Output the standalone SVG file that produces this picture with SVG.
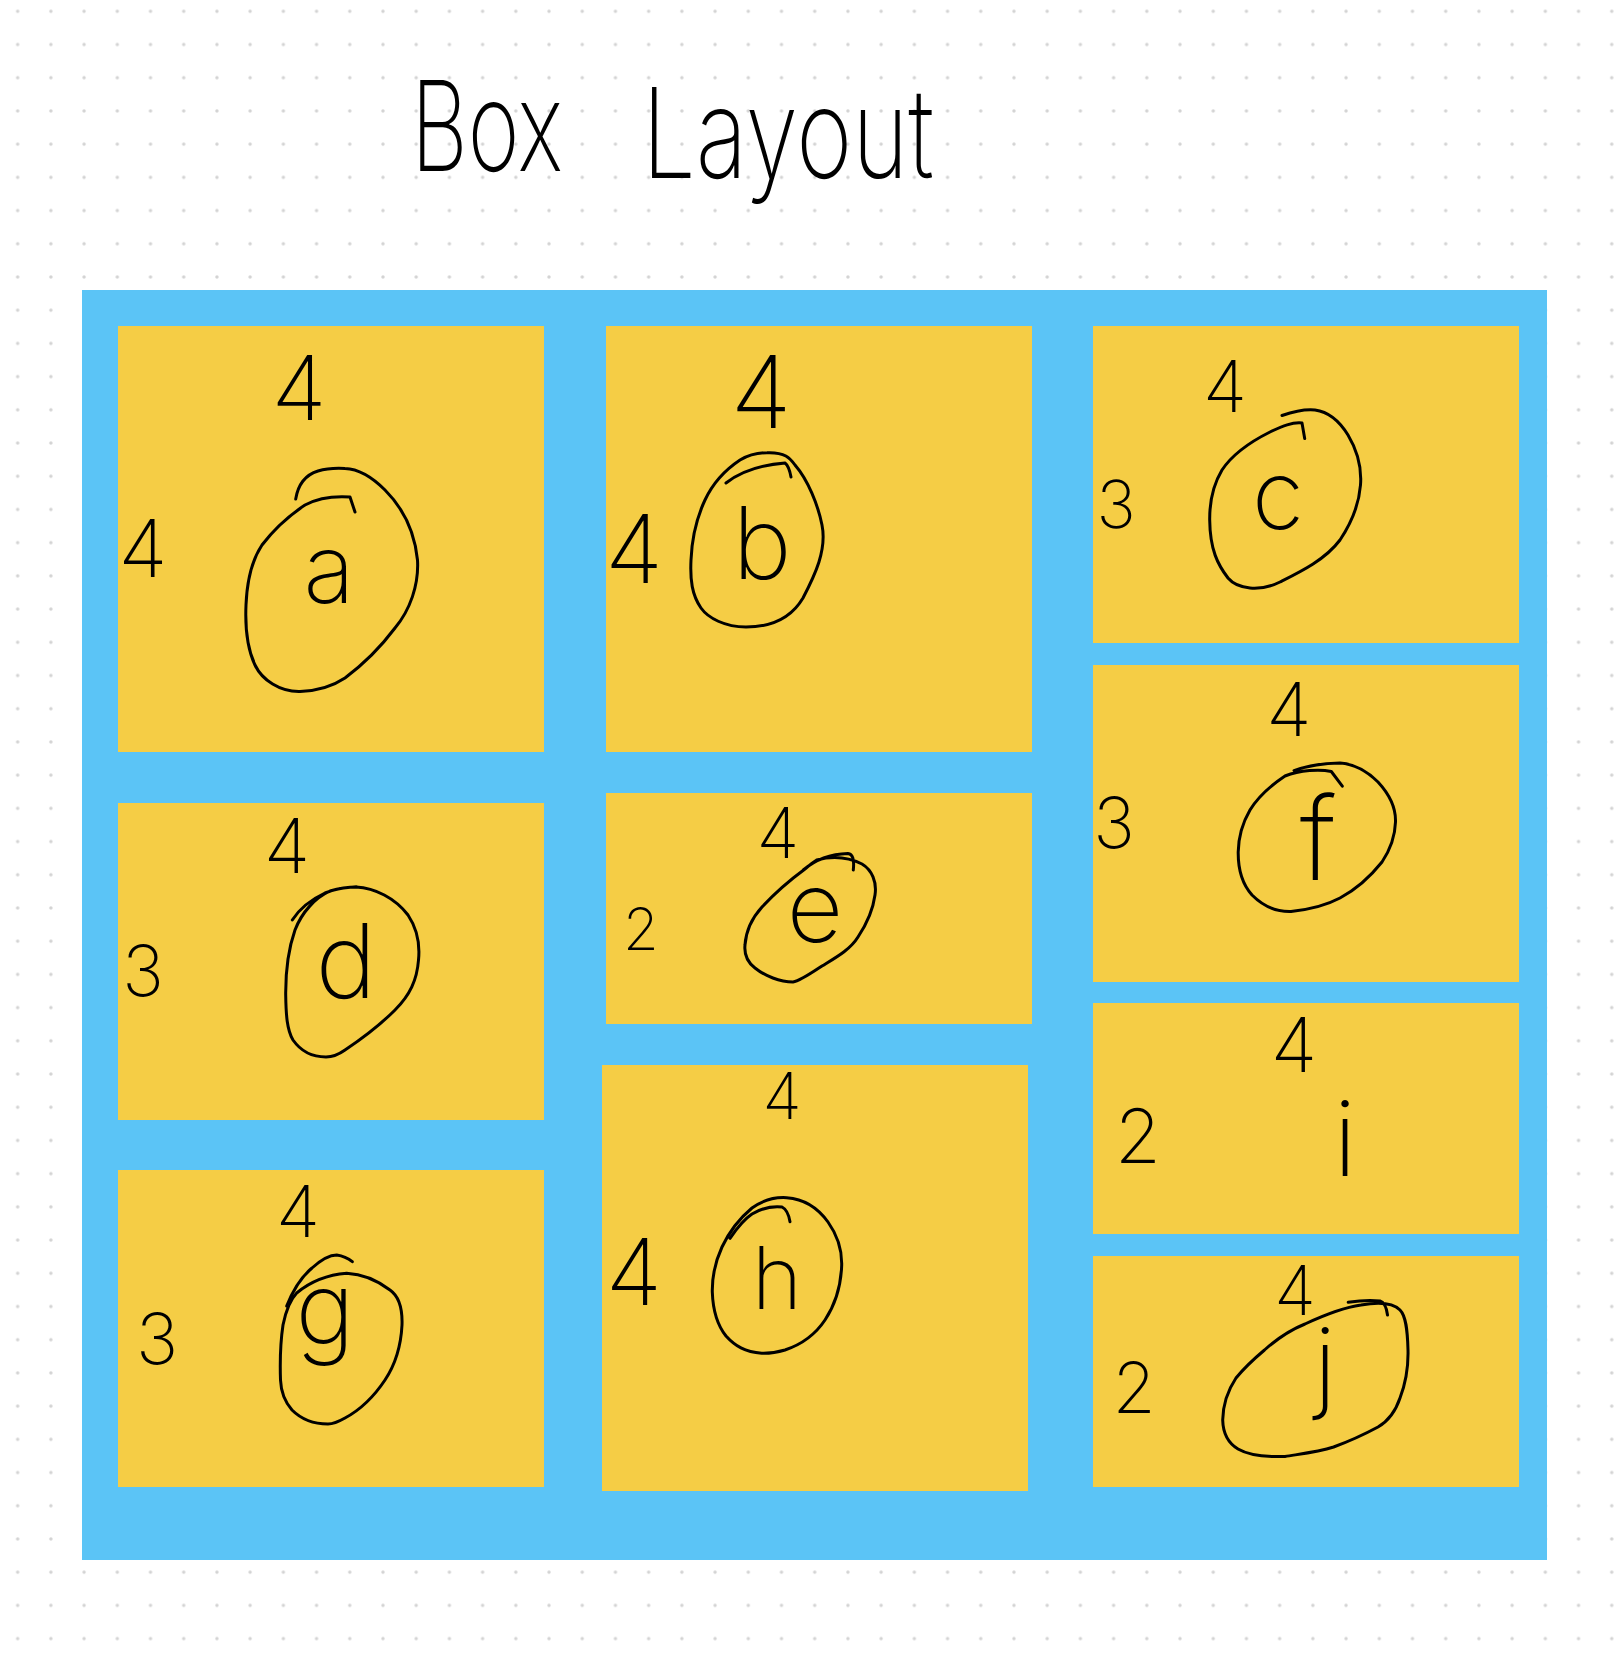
<svg xmlns="http://www.w3.org/2000/svg" width="1620" height="1663" viewBox="0 0 1620 1663">
<defs>
<pattern id="dots" patternUnits="userSpaceOnUse" x="1.07" y="-5.3" width="33.21" height="33.21">
<circle cx="16.6" cy="16.6" r="1.7" fill="#d3d3d3"/>
</pattern>
<style>
.frame{fill:#5BC4F6}
.box{fill:#F5CD45}
.ink{fill:none;stroke:#000;stroke-width:3;stroke-linecap:round;stroke-linejoin:round}
.hw{font-family:Inter,"DejaVu Sans","Liberation Sans",sans-serif;font-weight:200;fill:#000;text-anchor:middle}
.title{font-family:Inter,"DejaVu Sans","Liberation Sans",sans-serif;font-weight:200;fill:#000}
</style>
</defs>
<rect width="1620" height="1663" fill="#fff"/>
<rect width="1620" height="1663" fill="url(#dots)"/>
<g id="title">
<text class="title" x="411" y="171" font-size="125" textLength="152" lengthAdjust="spacingAndGlyphs">Box</text>
<text class="title" x="642" y="178" font-size="125" textLength="292" lengthAdjust="spacingAndGlyphs">Layout</text>
</g>
<rect id="container" class="frame" x="82" y="290" width="1465" height="1270"/>
<g id="connectors"/>
<g id="box-a">
<rect class="box" x="118" y="326" width="426" height="426"/>
<text class="hw" x="299" y="420" font-size="90">4</text>
<text class="hw" x="143" y="577" font-size="80">4</text>
<path class="ink" d="M295.7,499 C298,485 305,475 318,471 C328,468 336,468 345,468.5 C360,469 373,478 385,490 C405,510 415,535 417.5,560 C419,585 410,610 395,628 C380,648 365,663 345,678 C330,688 315,691 300,691.5 C280,692 262,680 255,665 C247,648 245,628 246,605 C247,580 252,560 262,545 C275,528 290,515 305,505 C318,498 335,496 350,497 L355,512"/>
<text class="hw" x="329" y="603" font-size="95">a</text>
</g>
<g id="box-b">
<rect class="box" x="606" y="326" width="426" height="426"/>
<text class="hw" x="761" y="428" font-size="100">4</text>
<text class="hw" x="634" y="583" font-size="95">4</text>
<path class="ink" d="M767,452.7 C785,452 790,458 795,465 C808,480 818,505 822,525 C827,550 815,575 803,598 C790,620 770,627 746,627 C725,627 708,618 701,608 C692,595 690,580 691,560 C692,535 698,515 705,500 C712,485 725,470 740,460 C750,454 760,452.7 767,452.7 Z M726,483 C740,472 760,465 785,463 Q789,466 791,477"/>
<text class="hw" x="762" y="579" font-size="100">b</text>
</g>
<g id="box-c">
<rect class="box" x="1093" y="326" width="426" height="317"/>
<text class="hw" x="1225" y="412" font-size="72">4</text>
<text class="hw" x="1116" y="528" font-size="66">3</text>
<path class="ink" d="M1282,415.5 C1295,411 1305,409 1315,410 C1330,412 1340,422 1348,435 C1357,450 1362,465 1360.5,485 C1359,505 1350,525 1340,540 C1325,560 1300,572 1280,582 C1270,587 1262,589 1250,588 C1240,587 1233,584 1228,578 C1218,565 1210,550 1209.7,520 C1209.5,500 1213,485 1222,470 C1232,455 1250,442 1270,432 C1283,426 1292,422 1302,423 L1304.7,438.5"/>
<text class="hw" x="1278" y="529" font-size="95">c</text>
</g>
<g id="box-d">
<rect class="box" x="118" y="803" width="426" height="317"/>
<text class="hw" x="287" y="873" font-size="76">4</text>
<text class="hw" x="143" y="996" font-size="70">3</text>
<path class="ink" d="M292.3,920 C300,908 310,900 325,893 C335,889 345,887 356,887 C375,888 395,898 408,915 C418,930 420,945 418.5,960 C417,980 410,995 395,1010 C380,1025 360,1040 345,1050 C338,1055 332,1057 326,1057 C310,1057 300,1050 293,1040 C287,1030 286,1015 285.7,995 C285.5,970 288,950 295,930 C302,912 315,898 330,891 C340,888 350,887 357,887"/>
<text class="hw" x="346" y="998" font-size="103">d</text>
</g>
<g id="box-e">
<rect class="box" x="606" y="793" width="426" height="231"/>
<text class="hw" x="778" y="858" font-size="70">4</text>
<text class="hw" x="641" y="950" font-size="58">2</text>
<path class="ink" d="M816.7,860 C835,855 850,858 862,864 C872,870 877,882 875,895 C873,910 866,925 858,937 C850,950 835,958 822,966 C810,974 800,981 793,982 C780,982 765,976 755,968 C747,962 744,955 745,945 C746,930 752,918 762,907 C775,893 790,880 805,869 C810,865 813,862 816.7,860 M803.3,870 C815,860 830,854 848,853.5 Q855,854 853.3,870"/>
<text class="hw" x="815" y="942" font-size="98">e</text>
</g>
<g id="box-f">
<rect class="box" x="1093" y="665" width="426" height="317"/>
<text class="hw" x="1289" y="736" font-size="74">4</text>
<text class="hw" x="1114" y="848" font-size="70">3</text>
<path class="ink" d="M1294,770.6 C1310,765 1325,763 1340,763 C1355,764 1368,772 1378,782 C1390,795 1396,808 1395.5,822 C1395,838 1390,850 1382,862 C1370,877 1355,890 1340,898 C1325,906 1305,910 1291,911.5 C1275,912 1262,905 1252,895 C1243,885 1238,872 1238.2,852 C1238.5,835 1243,822 1250,810 C1258,797 1270,786 1285,776 C1300,770 1320,769 1331.3,771.5 L1342.3,786.2"/>
<text class="hw" x="1318" y="880" font-size="115">f</text>
</g>
<g id="box-g">
<rect class="box" x="118" y="1170" width="426" height="317"/>
<text class="hw" x="298" y="1237" font-size="72">4</text>
<text class="hw" x="157" y="1364" font-size="71">3</text>
<path class="ink" d="M296.7,1293 C310,1282 325,1275 346.7,1273.3 C362,1274 378,1281 390,1290 C400,1297 402.5,1310 402,1325 C401,1345 395,1365 385,1380 C375,1395 360,1410 345,1418 C338,1422 333,1424 328,1424 C312,1424 300,1418 292,1410 C285,1402 281,1392 280.5,1380 C280,1365 280,1345 283,1325 C286,1310 290,1300 296.7,1293 M286.7,1306 C293,1290 300,1278 312,1268 C322,1259 330,1255 336.7,1255 C344,1256 349,1259 352.3,1261.7"/>
<text class="hw" x="325" y="1344" font-size="100">g</text>
</g>
<g id="box-h">
<rect class="box" x="602" y="1065" width="426" height="426"/>
<text class="hw" x="782" y="1119" font-size="64">4</text>
<text class="hw" x="634" y="1305" font-size="92">4</text>
<path class="ink" d="M786.7,1197.7 C805,1199 818,1208 828,1222 C838,1236 842,1250 841.7,1265 C841,1285 835,1305 825,1320 C815,1335 800,1345 785,1350 C775,1353 768,1353.5 761.7,1353.3 C745,1352 735,1346 726,1336 C718,1326 713,1312 712.3,1292 C712,1275 716,1260 722,1247 C730,1230 740,1218 752,1208 C763,1200 775,1197 786.7,1197.7 Z M730,1238.3 C737,1228 743,1220 752,1214 C762,1208 772,1206 782,1207 Q788,1210 790,1221.7"/>
<text class="hw" x="777" y="1309" font-size="86">h</text>
</g>
<g id="box-i">
<rect class="box" x="1093" y="1003" width="426" height="231"/>
<text class="hw" x="1294" y="1072" font-size="76">4</text>
<text class="hw" x="1138" y="1163" font-size="75">2</text>
<text class="hw" x="1345" y="1176" font-size="105">i</text>
</g>
<g id="box-j">
<rect class="box" x="1093" y="1256" width="426" height="231"/>
<text class="hw" x="1295" y="1315" font-size="68">4</text>
<text class="hw" x="1134" y="1413" font-size="70">2</text>
<path class="ink" d="M1361,1305 C1378,1302 1392,1302 1400,1310 C1406,1316 1407.5,1330 1408,1350 C1408.5,1370 1405,1385 1400,1398 C1396,1410 1390,1420 1378,1427 C1365,1434 1350,1441 1333.6,1447 C1318,1452 1300,1454 1285,1456.5 C1270,1457 1250,1456 1238,1449 C1228,1443 1223,1432 1222.7,1420 C1223,1405 1228,1390 1236,1378 C1245,1367 1255,1358 1264.5,1350 C1278,1338 1290,1330 1305,1324 C1320,1317 1340,1308 1361,1305 Z M1348.2,1302.3 C1360,1300.5 1370,1300 1380,1301 Q1386,1303 1387.5,1315"/>
<text class="hw" x="1325" y="1400" font-size="100">j</text>
</g>
</svg>
